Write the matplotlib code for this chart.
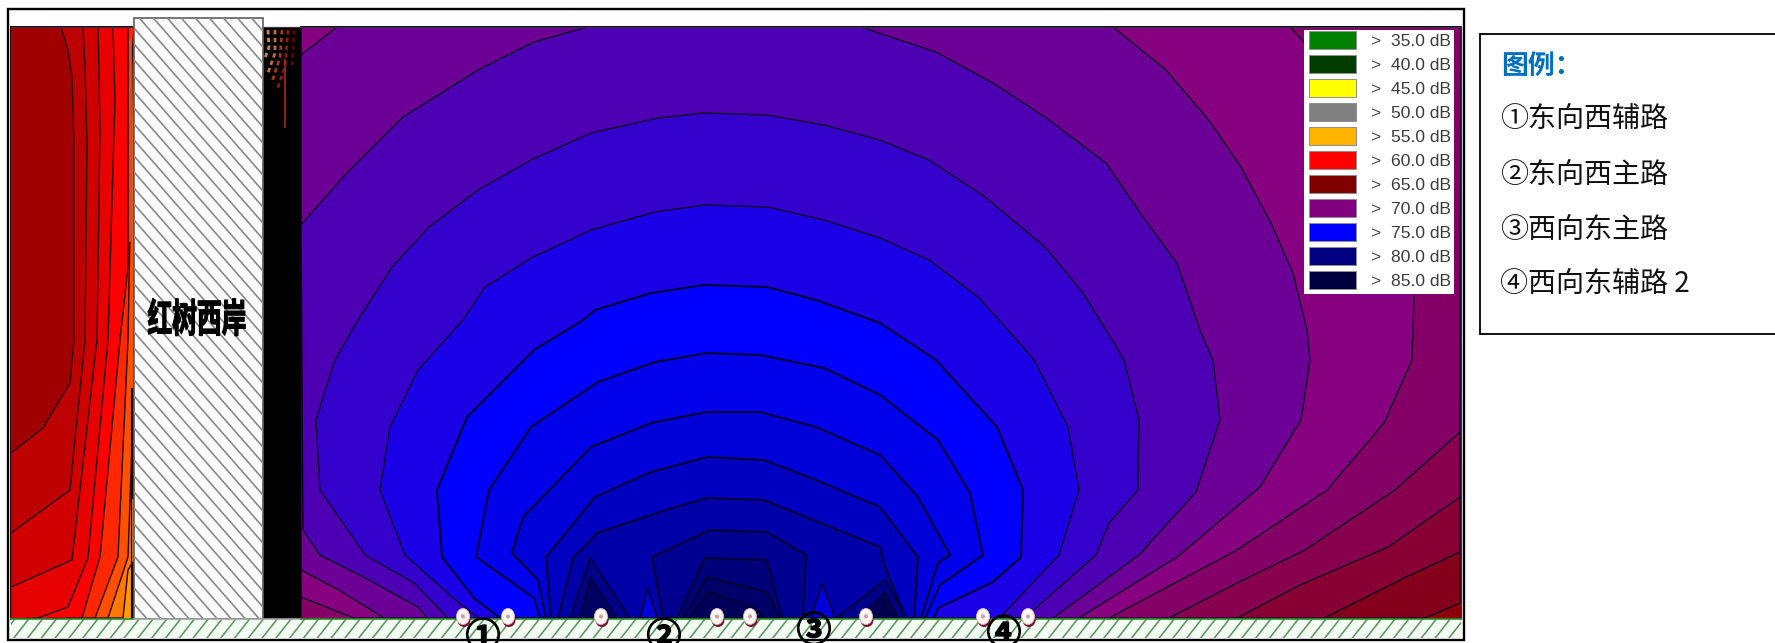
import numpy as np
import matplotlib
matplotlib.use("Agg")
import matplotlib.pyplot as plt
from matplotlib.patches import Rectangle, Ellipse
from matplotlib.transforms import Affine2D
import matplotlib.patheffects as pe

CJK = ['Noto Sans CJK SC', 'DejaVu Sans']

# ---- legend data
legend_levels = ["35.0", "40.0", "45.0", "50.0", "55.0", "60.0", "65.0", "70.0", "75.0", "80.0", "85.0"]
legend_colours = ["#008000", "#003c00", "#ffff00", "#808080", "#ffb400", "#ff0000",
                  "#800000", "#800080", "#0000ff", "#000080", "#000040"]
panel_title = "图例："
panel_rows = ["①东向西辅路", "②东向西主路", "③西向东主路", "④西向东辅路 2"]
road_marks = ["①", "②", "③", "④"]
road_mark_x = [483, 664, 814, 1004]
road_mark_y = [637, 637, 631, 634]
source_x = [463, 508, 601, 717, 750, 866, 983, 1028]
bank_label = "红树西岸"

# ---- contour lines east of the bank, lowest level first
c66 = [(1460,603),(1425,618)]
c67 = [(1460,552),(1406,577),(1324,618)]
c68 = [(1460,497),(1388,547),(1300,585),(1237,618)]
c69 = [(1460,432),(1395,490),(1305,550),(1237,583),(1169,618)]
c70 = [(1290,27),(1305,43),(1380,170),(1414,297),(1412,360),(1384,423),(1327,490),(1237,550),(1109,618),
       (354,618),(301,597)]
c71 = [(301,55),(337,27),(1113,27),(1166,70),(1211,123),(1241,167),(1271,223),(1293,273),(1307,330),
       (1310,360),(1301,420),(1260,487),(1177,557),(1079,618),(384,618),(339,590),(301,570)]
c72 = [(301,225),(343,177),(403,117),(478,70),(534,42),(587,27),(861,27),(936,52),(993,83),(1045,117),
       (1106,163),(1143,217),(1177,263),(1200,330),(1213,360),(1220,420),(1196,492),(1139,555),(1053,618),
       (427,618),(418,607),(369,580),(320,555),(303,530)]
c73 = [(448,618),(414,583),(365,555),(320,490),(316,420),(335,360),(358,320),(392,267),(429,227),(478,190),
       (531,160),(591,133),(658,118),(704,113),(767,115),(824,125),(880,140),(929,160),(985,197),(1045,247),
       (1083,293),(1106,330),(1124,360),(1139,420),(1138,490),(1109,523),(1096,555),(1030,613),(1025,618)]
c74 = [(478,618),(452,597),(405,555),(380,490),(390,427),(418,370),(463,320),(485,287),(531,258),(591,230),
       (655,212),(704,205),(767,207),(824,220),(880,238),(929,260),(978,297),(1008,330),(1034,360),(1068,427),
       (1079,490),(1059,555),(1004,613),(1002,618)]
c75 = [(500,618),(474,598),(442,557),(437,490),(467,417),(534,350),(583,320),(595,310),(651,293),(704,285),
       (767,287),(816,300),(880,323),(936,360),(997,427),(1023,490),(1021,557),(993,582),(938,608),(934,618)]
c76 = [(540,618),(534,598),(476,557),(489,490),(531,427),(598,382),(655,362),(707,353),(760,355),(824,368),
       (880,395),(938,440),(970,493),(983,555),(940,585),(925,618)]
c77 = [(546,618),(538,580),(512,553),(523,517),(591,447),(651,423),(707,412),(760,412),(816,427),(880,455),
       (918,497),(950,555),(938,563),(921,618)]
c78 = [(551,618),(546,557),(595,497),(651,472),(707,457),(764,460),(816,480),(880,507),(918,557),(914,618)]
c79 = [(558,618),(573,558),(597,533),(666,510),(707,498),(764,500),(880,547),(885,567),(906,618)]
c80 = [(663,618),(652,557),(710,530),(767,532),(806,555),(803,618)]
c81 = [(677,618),(705,558),(767,560),(782,618)]
c82 = [(683,618),(707,577),(767,592),(779,618)]
c83 = [(688,618),(709,592),(752,607),(767,618)]
# side lobes and notches near the road
lobe_w1 = [(570,618),(590,558),(630,618)]
lobe_w2 = [(580,618),(590,577),(617,618)]
lobe_e1 = [(836,618),(885,580),(906,618)]
lobe_e2 = [(860,618),(885,592),(898,618)]
notch_w = [(640,618),(648,588),(657,618)]
notch_e = [(811,618),(822,583),(835,618)]

east_levels = [c66, c67, c68, c69, c70, c71, c72, c73, c74, c75, c76, c77, c78, c79, c80, c81, c82, c83]
east_colours = ["#84001a", "#880033", "#88004d", "#850066", "#860080", "#6c0096", "#4d00b3", "#3300cc",
                "#1a00e6", "#0000ff", "#0000ea", "#0000d8", "#0000c0", "#0000a8", "#000090", "#000078",
                "#000068", "#000058"]

# ---- contour lines west of the bank, darkest band last
w_a = [(61,27),(68,50),(72,77),(74,143),(74,340),(70,383),(43,428),(11,453)]
w_b = [(83,27),(85,67),(87,143),(85,340),(70,490),(11,533)]
w_c = [(98,27),(100,127),(97,340),(72,560),(11,587)]
w_d = [(113,27),(115,100),(108,340),(88,558),(68,607),(38,618)]
w_e = [(128,27),(128,267),(120,340),(100,557),(82,618)]
w_f = [(134,27),(132,60),(130,233),(128,340),(118,557),(95,618)]
w_g = [(134,27),(134,390),(128,557),(108,618)]
w_h = [(134,27),(134,560),(128,570),(123,618)]
west_lines = [w_h, w_g, w_f, w_e, w_d, w_c, w_b, w_a]
west_colours = ["#ff7800", "#ff5000", "#ff2800", "#ff0000", "#e60000", "#d00000", "#bd0000", "#a00000"]

# ---- contour residue in the black strip
residue_1 = [(268,30),(269,47),(265,58)]
residue_2 = [(275,30),(275,53),(268,73)]
residue_3 = [(282,30),(280,57),(272,82)]
residue_4 = [(288,30),(285,67),(277,90)]
residue_5 = [(294,30),(292,65)]
residue_lines = [residue_1, residue_2, residue_3, residue_4, residue_5]
residue_colours = ["#c88a55", "#c07040", "#a03a20", "#8a1a10", "#600000"]
residue_stem = [(285,60),(285,127)]

fig = plt.figure(figsize=(17.75, 6.43), dpi=100, facecolor="white")
ax = fig.add_axes([0, 0, 1, 1])
ax.set_xlim(0, 1775)
ax.set_ylim(643, 0)
ax.axis("off")

EDGE = "#120028"
def band(points, colour, z, lw=1.1, edge=EDGE):
    xs, ys = zip(*points)
    ax.fill(xs, ys, facecolor=colour, edgecolor=edge, lw=lw, zorder=z, joinstyle="round")

# west domain
ax.add_patch(Rectangle((11, 27), 123, 592, fc="#ff9a00", ec="none", zorder=1))
for i, (line, col) in enumerate(zip(west_lines, west_colours)):
    corner = [(11, 619)] if line[-1][1] > 600 else []
    band(line + corner + [(11, 27)], col, 2 + i * 0.01, lw=1.0, edge="#2a0000")
ax.plot([132.5, 132.5], [390, 618], color="#140000", lw=3, zorder=2.5)
ax.plot([130, 130], [40, 240], color="#c05a30", lw=2, zorder=2.5)
ax.plot([133, 133], [500, 560], color="#c07a40", lw=2, zorder=2.6)

# east domain
ax.add_patch(Rectangle((301, 27), 1160, 592, fc="#8a0006", ec="none", zorder=1))
corners = {id(c66): [(301,619),(301,27),(1461,27)], id(c67): [(301,619),(301,27),(1461,27)],
           id(c68): [(301,619),(301,27),(1461,27)], id(c69): [(301,619),(301,27),(1461,27)],
           id(c70): [(301,27)], id(c71): [], id(c72): []}
for i, (line, col) in enumerate(zip(east_levels, east_colours)):
    lw = 1.0 if i < 9 else 1.5
    edge = EDGE if i < 9 else "#000038"
    band(line + corners.get(id(line), []), col, 3 + i * 0.01, lw=lw, edge=edge)
for pts, col in [(lobe_w1, "#000088"), (lobe_w2, "#000060"), (lobe_e1, "#000088"), (lobe_e2, "#000050")]:
    band(pts, col, 3.5, lw=1.3, edge="#000038")
for pts in (notch_w, notch_e):
    band(pts, "#0000d8", 3.6, lw=1.2, edge="#000038")

# black strip beside the bank with its contour residue
ax.add_patch(Rectangle((263, 27), 38, 592, fc="black", ec="none", zorder=4))
for line, col in zip(residue_lines, residue_colours):
    xs, ys = zip(*line)
    ax.plot(xs, ys, color=col, lw=2.0, ls=(0, (1.6, 1.2)), zorder=4.1)
ax.plot(*zip(*residue_stem), color="#a02020", lw=1.3, zorder=4.1)

# domain outline sits under the bank and the road
ax.add_patch(Rectangle((11, 27), 1450, 592, fc="none", ec="#3a3040", lw=0.9, zorder=4.5))

# hatched bank
bank = Rectangle((134, 18), 129, 601, fc="#fbfbfb", ec="#606060", lw=1.2, zorder=5)
ax.add_patch(bank)
for c in np.arange(-150, 625, 16):
    ln, = ax.plot([134, 263], [c + 18, c + 18 + 129 * 1.14], color="#8a8a8a", lw=1.2, zorder=5.1)
    ln.set_clip_path(bank)


class Stretch(pe.AbstractPathEffect):
    """Tall, heavy lettering of the bank label."""
    def __init__(self, cx, cy, sy, width):
        super().__init__()
        self.tr = Affine2D().translate(-cx, -cy).scale(1, sy).translate(cx, cy)
        self.width = width

    def draw_path(self, renderer, gc, tpath, affine, rgbFace=None):
        gc0 = renderer.new_gc()
        gc0.copy_properties(gc)
        gc0.set_foreground("black")
        gc0.set_linewidth(self.width)
        renderer.draw_path(gc0, tpath, affine + self.tr, rgbFace)
        gc0.restore()


ax.text(197, 321, bank_label, family=CJK, fontsize=17.8, fontweight="bold", color="black",
        ha="center", va="center", zorder=6,
        path_effects=[Stretch(197, 643 - 321, 1.6, 0.8)])

# road strip
ground = Rectangle((11, 619), 1450, 19, fc="#f2fff2", ec="none", zorder=5)
ax.add_patch(ground)
for x in np.arange(0, 1490, 13.8):
    ln, = ax.plot([x, x + 15], [638, 619], color="#5a8f60", lw=1.1, zorder=5.1)
    ln.set_clip_path(ground)
ax.plot([11, 134], [619, 619], color="#2e8b2e", lw=1.2, zorder=5.2)
ax.plot([134, 301], [619, 619], color="#a0a0a0", lw=1.2, zorder=5.2)
ax.plot([301, 1461], [619, 619], color="#2e8b2e", lw=1.2, zorder=5.2)

# road sources
for x in source_x:
    ax.add_patch(Ellipse((x + 1, 620), 13, 14, fc="#7a1030", ec="none", zorder=6))
    ax.add_patch(Ellipse((x, 616.5), 13, 16, fc="#fff6f4", ec="#d8b8b8", lw=0.6, zorder=6.1))
    ax.add_patch(Ellipse((x, 616.5), 4, 4, fc="#c8a0a0", ec="none", zorder=6.2))
for x, y, m in zip(road_mark_x, road_mark_y, road_marks):
    ax.text(x, y, m, family=CJK, fontsize=25, fontweight="bold", color="black",
            ha="center", va="center", zorder=7,
            path_effects=[pe.withStroke(linewidth=1.0, foreground="black")])

# frame
ax.add_patch(Rectangle((8, 9), 1456, 631, fc="none", ec="black", lw=1.7, zorder=8))

# level legend
ax.add_patch(Rectangle((1304, 30), 150, 264, fc="white", ec="none", zorder=9))
for i, (lev, col) in enumerate(zip(legend_levels, legend_colours)):
    yc = 40 + 24 * i
    ax.add_patch(Rectangle((1309, yc - 8.7), 47, 17.4, fc=col, ec="#8f8f8f", lw=0.7, zorder=9.1))
    ax.text(1375, yc + 2, ">", family="Liberation Sans", fontsize=12.6, color="#505050",
            ha="center", va="center", zorder=9.2)
    ax.text(1451, yc + 2, f"{lev} dB", family="Liberation Sans", fontsize=12.6, color="#3c3c3c",
            ha="right", va="center", zorder=9.2)

# road key panel
ax.add_patch(Rectangle((1480, 34), 320, 300, fc="white", ec="black", lw=1.3, zorder=9, clip_on=True))
ax.text(1501, 67, panel_title, family=CJK, fontsize=19.4, fontweight="bold", color="#0070c0",
        ha="left", va="center", zorder=10)
for y, row in zip([120, 175, 230, 285], panel_rows):
    ax.text(1500, y, row, family=CJK, fontsize=20.2, color="#111111", ha="left", va="center", zorder=10)

fig.savefig("out.png", dpi=100)
